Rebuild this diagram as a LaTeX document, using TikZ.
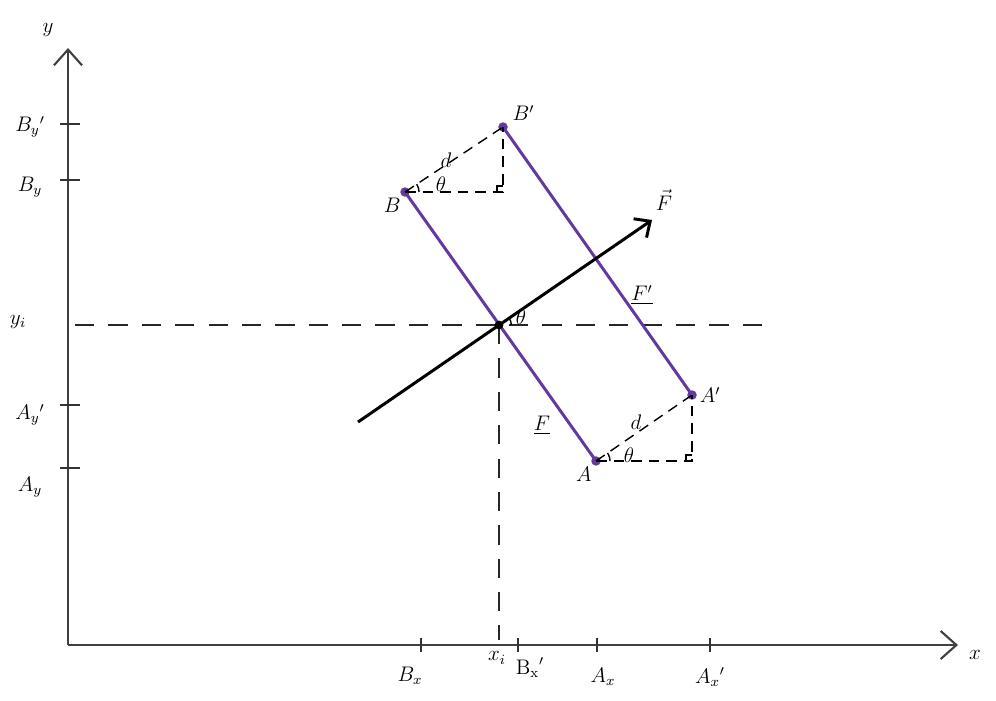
\documentclass[tikz,border=0pt]{standalone}
\usetikzlibrary{arrows.meta}
\definecolor{rodpurple}{RGB}{98,58,158}
\begin{document}
\begin{tikzpicture}[x=0.02cm, y=0.02cm,
    axis/.style={line width=1.2pt, black!75},
    rod/.style={line width=1.7pt, rodpurple},
    guide/.style={line width=0.8pt, black!85, dash pattern=on 11pt off 8pt},
    tri/.style={line width=0.8pt, dash pattern=on 6pt off 4pt},
    tick/.style={line width=0.9pt, black!80},
    lbl/.style={font=\large}]
    \useasboundingbox (0,0) rectangle (996,700);

    % Axes
    \coordinate (O) at (68,55);
    \coordinate (Ytop) at (68,652);
    \coordinate (Xend) at (958,55);
    \draw[axis, -{Straight Barb[length=9pt,width=16pt]}] (O) -- (Ytop);
    \draw[axis, -{Straight Barb[length=9pt,width=16pt]}] (O) -- (Xend);
    \node[lbl] (ylab) at (48,670) {$y$};
    \node[lbl] (xlab) at (975,45) {$x$};

    % Ticks on the y axis
    \foreach \yy/\ly/\txt [count=\i] in {576/573/{$B_y{}'$}, 520/513/{$B_y$}, 295/285/{$A_y{}'$}, 232/213/{$A_y$}} {
        \draw[tick] (60,\yy) -- (80,\yy);
        \node[lbl] (ty\i) at (30,\ly) {\txt};
    }
    \node[lbl] (tyi) at (18,378) {$y_i$};

    % Ticks on the x axis
    \foreach \xx/\lx/\ly/\txt [count=\i] in {421/410/24/{$B_x$}, 518/530/32/{$\mathrm{B_x}'$}, 597/603/23/{$A_x$}, 710/710/23/{$A_x{}'$}} {
        \draw[tick] (\xx,48) -- (\xx,62);
        \node[lbl] (tx\i) at (\lx,\ly) {\txt};
    }
    \node[lbl] (txi) at (497,42) {$x_i$};

    % Points of the rod
    \coordinate (B) at (405,508);
    \coordinate (Bp) at (503,573);
    \coordinate (A) at (596,239);
    \coordinate (Ap) at (692,305);
    \coordinate (I) at (499,375);
    \coordinate (CB) at (503,508);
    \coordinate (CA) at (692,239);

    % Guide lines through the intersection
    \coordinate (Hl) at (75,375);
    \coordinate (Hr) at (765,375);
    \coordinate (Vb) at (499,60);
    \draw[guide] (Hl) -- (Hr);
    \draw[guide] (I) -- (Vb);

    % Rod before and after
    \draw[rod] (B) -- (A);
    \draw[rod] (Bp) -- (Ap);
    \foreach \p in {B,Bp,A,Ap} \fill[rodpurple] (\p) circle (2.7pt);
    \fill (I) circle (2.5pt);
    \node[lbl, anchor=north east] (Blab) at ([xshift=1pt]B) {$B$};
    \node[lbl, anchor=south west] (Bplab) at ([xshift=2pt]Bp) {$B'$};
    \node[lbl, anchor=north east] (Alab) at ([xshift=1pt]A) {$A$};
    \node[lbl, anchor=west] (Aplab) at ([xshift=1pt]Ap) {$A'$};
    \node[lbl] (Flab) at (542,275) {$\underline{F}$};
    \node[lbl] (Fplab) at (642,405) {$\underline{F'}$};

    % Force direction
    \coordinate (Fs) at (358,278);
    \coordinate (Fe) at (652,480);
    \draw[line width=1.7pt, -{Straight Barb[length=7pt,width=13pt]}] (Fs) -- (Fe);
    \node[lbl] (Fvec) at (664,500) {$\vec{F}$};
    \draw[line width=0.8pt] (I) ++(7pt,0) arc (0:34.6:7pt);
    \node[lbl] (thI) at (521,383) {$\theta$};

    % Displacement triangles
    \draw[tri] (B) -- (Bp);
    \draw[tri] (B) -- (CB) -- (Bp);
    \draw[line width=0.8pt] (497,508) -- (497,514) -- (503,514);
    \draw[line width=0.8pt] (B) ++(8pt,0) arc (0:33.6:8pt);
    \node[lbl] (dB) at (446,540) {$d$};
    \node[lbl] (thB) at (441,516) {$\theta$};

    \draw[tri] (A) -- (Ap);
    \draw[tri] (A) -- (CA) -- (Ap);
    \draw[line width=0.8pt] (686,239) -- (686,245) -- (692,245);
    \draw[line width=0.8pt] (A) ++(8pt,0) arc (0:34.5:8pt);
    \node[lbl] (dA) at (636,278) {$d$};
    \node[lbl] (thA) at (629,245) {$\theta$};
\end{tikzpicture}
\end{document}
